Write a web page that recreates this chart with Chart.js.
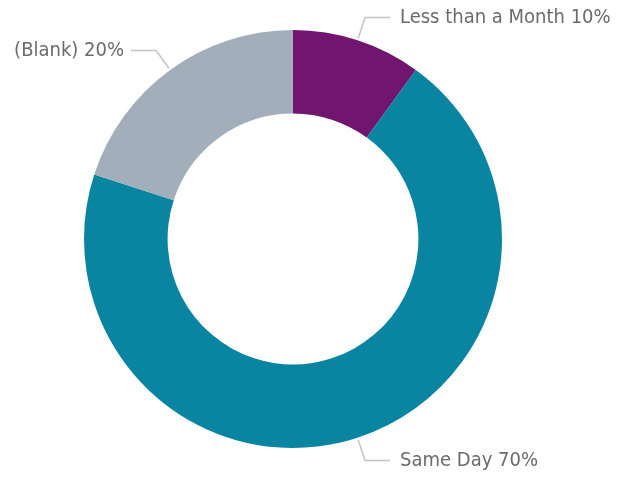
<!DOCTYPE html>
<html>
<head>
<meta charset="utf-8">
<script src="https://cdn.jsdelivr.net/npm/chart.js@4"></script>
<style>
  html, body { margin: 0; padding: 0; background: #fff; }
  #wrap { width: 621px; height: 477px; }
</style>
</head>
<body>
<div id="wrap"><canvas id="donut"></canvas></div>
<script>
const categories = ["Less than a Month", "Same Day", "(Blank)"];
const shares = [10, 70, 20];
const colors = ["#71166E", "#0A85A1", "#A3AEBB"];

// leader lines + labels, placed from each arc's own geometry
const leaderLabels = {
    id: "leaderLabels",
    afterDatasetsDraw(chart) {
        const ctx = chart.ctx;
        const meta = chart.getDatasetMeta(0);
        ctx.save();
        ctx.font = "20px 'DejaVu Sans Condensed', 'Noto Sans', sans-serif";
        ctx.textBaseline = "middle";
        meta.data.forEach(function (arc, i) {
            const mid = (arc.startAngle + arc.endAngle) / 2;
            const r = arc.outerRadius;
            const x0 = arc.x + Math.cos(mid) * (r + 2);
            const y0 = arc.y + Math.sin(mid) * (r + 2);
            const x1 = arc.x + Math.cos(mid) * (r + 24);
            const y1 = arc.y + Math.sin(mid) * (r + 24);
            const right = Math.cos(mid) >= 0;
            const x2 = x1 + (right ? 25 : -25);
            ctx.strokeStyle = "#C4C4C4";
            ctx.lineWidth = 1.5;
            ctx.beginPath();
            ctx.moveTo(x0, y0);
            ctx.lineTo(x1, y1);
            ctx.lineTo(x2, y1);
            ctx.stroke();
            ctx.fillStyle = "#6B6B6B";
            ctx.textAlign = right ? "left" : "right";
            ctx.fillText(categories[i] + " " + shares[i] + "%", x2 + (right ? 10 : -7), y1);
        });
        ctx.restore();
    }
};

new Chart(document.getElementById("donut"), {
    type: "doughnut",
    data: {
        labels: categories,
        datasets: [{
            data: shares,
            backgroundColor: colors,
            borderWidth: 0,
        }],
    },
    options: {
        responsive: true,
        maintainAspectRatio: false,
        animation: false,
        cutout: "60%",
        layout: { padding: { top: 30, bottom: 29, left: 0, right: 35 } },
        plugins: {
            legend: { display: false },
            tooltip: { enabled: false },
        },
    },
    plugins: [leaderLabels],
});
</script>
</body>
</html>
